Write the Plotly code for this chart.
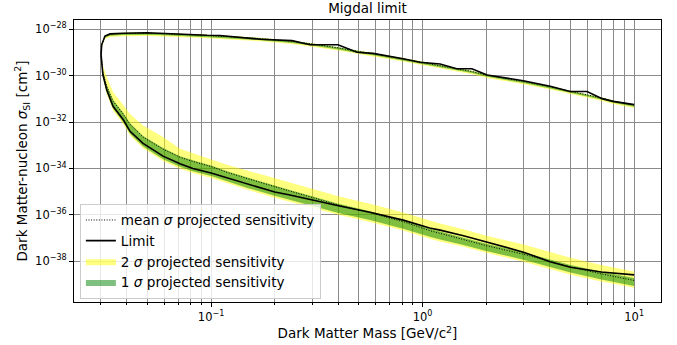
import plotly.graph_objects as go

# ---------------- data (log10 of cross-section in cm^2) ----------------
# upper branch of the exclusion contour
mass_upper = [0.0302, 0.0304, 0.0315, 0.0333, 0.0384, 0.0498, 0.064, 0.0958, 0.11, 0.171,
              0.241, 0.294, 0.398, 0.49, 0.583, 0.809, 0.973, 1.21, 1.45, 1.71,
              2.02, 2.99, 4.01, 4.98, 5.99, 7.06, 7.96, 10.0]
limit_upper = [-29.10, -28.67, -28.29, -28.20, -28.17, -28.15, -28.19, -28.26, -28.27, -28.43,
               -28.49, -28.67, -28.67, -28.99, -29.04, -29.27, -29.42, -29.50, -29.70, -29.70,
               -29.97, -30.22, -30.46, -30.68, -30.68, -30.99, -31.11, -31.25]
mean_upper = [-29.10, -28.67, -28.30, -28.21, -28.18, -28.17, -28.20, -28.27, -28.29, -28.40,
              -28.52, -28.62, -28.80, -28.95, -29.05, -29.27, -29.40, -29.55, -29.70, -29.82,
              -29.98, -30.25, -30.48, -30.68, -30.82, -30.97, -31.10, -31.27]
two_sig_upper_top = [-29.07, -28.64, -28.27, -28.18, -28.15, -28.14, -28.17, -28.24, -28.26, -28.37,
                     -28.49, -28.59, -28.77, -28.92, -29.02, -29.24, -29.37, -29.52, -29.67, -29.79,
                     -29.95, -30.22, -30.45, -30.65, -30.79, -30.94, -31.07, -31.24]
two_sig_upper_bot = [-29.22, -28.79, -28.42, -28.33, -28.30, -28.29, -28.32, -28.39, -28.41, -28.52,
                     -28.64, -28.74, -28.92, -29.07, -29.17, -29.39, -29.52, -29.67, -29.82, -29.94,
                     -30.10, -30.37, -30.60, -30.80, -30.94, -31.09, -31.22, -31.39]
one_sig_upper_top = [-29.08, -28.65, -28.28, -28.19, -28.16, -28.15, -28.18, -28.25, -28.27, -28.38,
                     -28.50, -28.60, -28.78, -28.93, -29.03, -29.25, -29.38, -29.53, -29.68, -29.80,
                     -29.96, -30.23, -30.46, -30.66, -30.80, -30.95, -31.08, -31.25]
one_sig_upper_bot = [-29.17, -28.74, -28.37, -28.28, -28.25, -28.24, -28.27, -28.34, -28.36, -28.47,
                     -28.59, -28.69, -28.87, -29.02, -29.12, -29.34, -29.47, -29.62, -29.77, -29.89,
                     -30.05, -30.32, -30.55, -30.75, -30.89, -31.04, -31.17, -31.34]

# lower branch of the exclusion contour
mass_lower = [0.0302, 0.0304, 0.0308, 0.0321, 0.0344, 0.0384, 0.0414, 0.0477, 0.0593, 0.0713,
              0.082, 0.1, 0.12, 0.15, 0.2, 0.236, 0.3, 0.4, 0.57, 0.81,
              1.08, 1.21, 1.56, 2.0, 3.0, 4.0, 5.0, 7.0, 10.0]
limit_lower = [-29.10, -29.50, -29.96, -30.61, -31.32, -31.89, -32.40, -32.92, -33.47, -33.80,
               -34.00, -34.20, -34.42, -34.70, -35.02, -35.15, -35.37, -35.61, -35.90, -36.23,
               -36.57, -36.66, -36.90, -37.18, -37.61, -38.02, -38.26, -38.47, -38.59]
mean_lower = [-29.10, -29.45, -29.85, -30.45, -31.10, -31.65, -32.10, -32.65, -33.17, -33.52,
              -33.70, -33.92, -34.18, -34.45, -34.80, -34.98, -35.25, -35.58, -35.92, -36.30,
              -36.68, -36.80, -37.05, -37.33, -37.70, -38.02, -38.25, -38.55, -38.83]
one_sig_lower_top = [-29.10, -29.42, -29.80, -30.40, -31.04, -31.60, -32.05, -32.60, -33.12, -33.47,
                     -33.65, -33.87, -34.13, -34.40, -34.75, -34.93, -35.20, -35.52, -35.86, -36.23,
                     -36.60, -36.72, -36.97, -37.25, -37.62, -37.94, -38.16, -38.46, -38.73]
one_sig_lower_bot = [-29.15, -29.60, -30.05, -30.72, -31.42, -32.00, -32.50, -33.05, -33.60, -33.93,
                     -34.12, -34.33, -34.57, -34.85, -35.18, -35.36, -35.62, -35.92, -36.24, -36.60,
                     -36.95, -37.07, -37.30, -37.56, -37.94, -38.26, -38.49, -38.79, -39.07]
two_sig_lower_top = [-29.05, -29.25, -29.55, -30.05, -30.70, -31.25, -31.65, -32.15, -32.65, -33.15,
                     -33.35, -33.62, -33.85, -34.10, -34.42, -34.60, -34.90, -35.20, -35.53, -35.90,
                     -36.25, -36.38, -36.62, -36.90, -37.28, -37.61, -37.85, -38.16, -38.45]
two_sig_lower_bot = [-29.18, -29.66, -30.12, -30.80, -31.50, -32.08, -32.58, -33.13, -33.68, -34.01,
                     -34.20, -34.41, -34.65, -34.93, -35.26, -35.44, -35.70, -36.00, -36.32, -36.68,
                     -37.03, -37.15, -37.38, -37.64, -38.02, -38.34, -38.58, -38.88, -39.15]

x_major_ticks = [0.1, 1, 10]
x_major_labels = ["10<sup>\u22121</sup>", "10<sup>0</sup>", "10<sup>1</sup>"]
x_minor_ticks = [0.03, 0.04, 0.05, 0.06, 0.07, 0.08, 0.09,
                 0.2, 0.3, 0.4, 0.5, 0.6, 0.7, 0.8, 0.9,
                 2, 3, 4, 5, 6, 7, 8, 9]
y_exponents = [-38, -36, -34, -32, -30, -28]


def pw(v):
    return [10.0 ** e for e in v]


def band(m, top, bot):
    return list(m) + list(m)[::-1], pw(top) + pw(bot)[::-1]


FONT = "DejaVu Sans"
YELLOW = "rgba(255,255,0,0.5)"
GREEN = "rgba(0,128,0,0.5)"

fig = go.Figure()

for i, (m, t, b) in enumerate([(mass_upper, two_sig_upper_top, two_sig_upper_bot),
                               (mass_lower, two_sig_lower_top, two_sig_lower_bot)]):
    bx, by = band(m, t, b)
    fig.add_trace(go.Scatter(x=bx, y=by, mode="lines", fill="toself", fillcolor=YELLOW,
                             line=dict(width=0, color=YELLOW), name="2 <i>\u03c3</i> projected sensitivity",
                             legendgroup="y2", showlegend=(i == 0), legendrank=3, hoverinfo="skip"))
for i, (m, t, b) in enumerate([(mass_upper, one_sig_upper_top, one_sig_upper_bot),
                               (mass_lower, one_sig_lower_top, one_sig_lower_bot)]):
    bx, by = band(m, t, b)
    fig.add_trace(go.Scatter(x=bx, y=by, mode="lines", fill="toself", fillcolor=GREEN,
                             line=dict(width=0, color=GREEN), name="1 <i>\u03c3</i> projected sensitivity",
                             legendgroup="y1", showlegend=(i == 0), legendrank=4, hoverinfo="skip"))

mx = mass_upper[::-1] + mass_lower[1:]
fig.add_trace(go.Scatter(x=mx, y=pw(mean_upper[::-1] + mean_lower[1:]), mode="lines",
                         line=dict(color="black", width=1, dash="1px,1.6px"),
                         name="mean <i>\u03c3</i> projected sensitivity", legendgroup="mean", legendrank=1))
fig.add_trace(go.Scatter(x=mx, y=pw(limit_upper[::-1] + limit_lower[1:]), mode="lines",
                         line=dict(color="black", width=1.6),
                         name="Limit", legendgroup="lim", legendrank=2))

GRID = "#8a8a8a"
fig.update_layout(
    width=677, height=345,
    margin=dict(l=74, r=16, t=20, b=43, autoexpand=False),
    paper_bgcolor="white", plot_bgcolor="white",
    font=dict(family=FONT, color="black", size=11),
    title=dict(text="Migdal limit", x=0.5, xref="paper", y=1 - 8 / 345, yref="container",
               xanchor="center", yanchor="middle", font=dict(size=13.5, family=FONT)),
    showlegend=True,
    legend=dict(x=0.01, y=0.012, xanchor="left", yanchor="bottom",
                bgcolor="rgba(255,255,255,0.8)", bordercolor="#cccccc", borderwidth=1,
                font=dict(size=13.6, family=FONT), tracegroupgap=0, traceorder="grouped"),
)
fig.update_xaxes(
    type="log", range=[-1.648, 1.127], automargin=False,
    tickvals=x_major_ticks, ticktext=x_major_labels, ticks="outside", ticklen=4,
    tickcolor="black", tickfont=dict(size=11.5),
    showline=True, linecolor="black", linewidth=1, mirror=True,
    showgrid=True, gridcolor=GRID, gridwidth=1, zeroline=False,
    minor=dict(tickvals=x_minor_ticks, ticks="outside", ticklen=2, tickcolor="black",
               showgrid=True, gridcolor=GRID, gridwidth=1),
    title=dict(text="Dark Matter Mass [GeV/c<sup>2</sup>]", font=dict(size=13.5, family=FONT), standoff=4),
)
fig.update_yaxes(
    type="log", range=[-39.76, -27.6], automargin=False,
    tickvals=[10.0 ** e for e in y_exponents],
    ticktext=["10<sup>\u2212%d</sup>" % (-e) for e in y_exponents],
    ticks="outside", ticklen=4, tickcolor="black", tickfont=dict(size=11.5),
    showline=True, linecolor="black", linewidth=1, mirror=True,
    showgrid=True, gridcolor=GRID, gridwidth=1, zeroline=False,
    title=dict(text="Dark Matter-nucleon <i>\u03c3</i><sub>SI</sub> [cm<sup>2</sup>]",
               font=dict(size=13.5, family=FONT), standoff=4),
)

fig.write_html("out.html")
